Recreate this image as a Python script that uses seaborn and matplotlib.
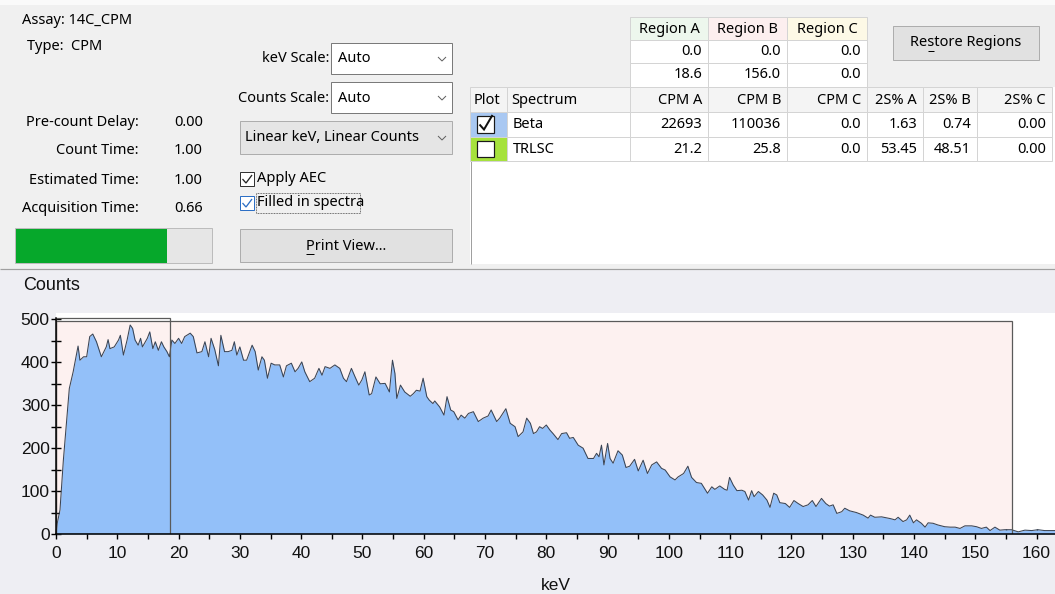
import matplotlib
matplotlib.use("Agg")
import matplotlib.pyplot as plt
from matplotlib.patches import Rectangle
from matplotlib.lines import Line2D
import seaborn as sns

# ---------------------------------------------------------------- data
assay_name = "14C_CPM"
assay_type = "CPM"

timing_labels = ["Pre-count Delay:", "Count Time:", "Estimated Time:", "Acquisition Time:"]
timing_values = [0.00, 1.00, 1.00, 0.66]
progress_fraction = 0.77

kev_scale = "Auto"
counts_scale = "Auto"
scale_mode = "Linear keV, Linear Counts"
apply_aec = True
filled_spectra = True

region_names = ["Region A", "Region B", "Region C"]
region_lower = [0.0, 0.0, 0.0]
region_upper = [18.6, 156.0, 0.0]

spectrum_names = ["Beta", "TRLSC"]
spectrum_plotted = [True, False]
cpm_values = [["22693", "110036", "0.0"], ["21.2", "25.8", "0.0"]]
two_sigma = [["1.63", "0.74", "0.00"], ["53.45", "48.51", "0.00"]]

# Beta spectrum (keV, counts)
kev = [0.0, 0.2, 0.65, 1.2, 1.74, 2.17, 2.8, 3.37, 3.6, 3.9, 4.5, 5.0, 5.5, 6.0, 6.6,
       7.4, 8.2, 8.5, 8.8, 9.5, 10.2, 10.5, 11.0, 11.6, 12.1, 12.5, 12.9, 13.4, 13.8,
       14.1, 14.9, 15.3, 15.8, 16.2, 16.7, 17.2, 17.6, 18.1, 18.5, 18.9, 19.4, 20.0,
       20.5, 21.0, 21.9, 22.4, 23.0, 23.8, 24.3, 24.9, 25.3, 25.9, 26.5, 26.9, 27.5,
       28.1, 28.7, 29.1, 29.5, 30.0, 30.6, 31.1, 32.0, 32.5, 33.0, 33.6, 34.0, 34.5,
       35.1, 35.7, 36.5, 37.1, 37.6, 38.4, 39.0, 39.5, 40.1, 40.6, 41.4, 42.2, 42.9,
       43.4, 43.9, 44.7, 45.5, 46.3, 46.9, 47.4, 48.2, 48.8, 49.4, 49.9, 50.4, 51.1,
       51.5, 52.2, 52.9, 53.7, 54.4, 54.9, 55.3, 55.6, 56.2, 56.9, 57.8, 58.3, 58.8,
       59.4, 59.9, 60.5, 60.9, 61.5, 61.8, 62.6, 63.3, 63.8, 64.4, 64.9, 65.6, 66.1,
       66.7, 67.3, 68.1, 68.9, 69.7, 70.5, 71.0, 71.9, 72.4, 73.4, 74.1, 74.9, 75.4,
       76.2, 76.8, 77.4, 77.9, 78.4, 78.9, 79.4, 80.0, 80.6, 81.1, 81.9, 82.5, 83.3,
       83.8, 84.4, 85.2, 86.0, 86.8, 87.7, 88.2, 88.6, 89.0, 89.4, 90.0, 90.4, 90.9,
       91.7, 92.4, 93.0, 93.6, 94.4, 95.0, 95.8, 96.5, 97.2, 98.0, 98.8, 99.4, 100.2,
       101.0, 101.5, 102.4, 103.1, 103.7, 104.5, 105.3, 106.3, 107.0, 107.5, 108.3,
       109.1, 109.5, 109.9, 110.5, 111.1, 111.9, 112.4, 113.0, 113.5, 113.9, 114.6,
       115.3, 116.0, 116.5, 117.1, 117.6, 118.1, 119.0, 119.7, 120.4, 121.1, 121.9,
       122.7, 123.4, 124.0, 124.9, 125.6, 126.2, 126.8, 127.4, 128.2, 128.7, 129.5,
       130.6, 131.7, 132.5, 132.9, 133.6, 134.7, 136.1, 136.9, 137.4, 138.2, 138.8,
       139.3, 139.9, 140.4, 141.2, 141.8, 142.3, 143.1, 143.9, 145.0, 145.9, 146.7,
       147.5, 148.3, 149.4, 150.2, 151.0, 151.8, 152.4, 153.2, 154.0, 154.8, 155.9,
       157.0, 158.1, 159.2, 160.2, 161.3, 163.0]
counts = [0, 25, 56, 172, 265, 339, 378, 421, 438, 405, 413, 413, 460, 466, 448,
          413, 436, 453, 432, 436, 452, 463, 417, 452, 487, 479, 452, 440, 456,
          436, 456, 471, 432, 448, 428, 448, 436, 425, 413, 452, 444, 456,
          444, 460, 468, 460, 422, 425, 448, 413, 456, 430, 392, 463, 425,
          425, 428, 448, 417, 436, 405, 405, 440, 425, 382, 413, 405, 363,
          398, 394, 394, 366, 392, 398, 378, 386, 401, 378, 355, 363, 386,
          370, 390, 386, 394, 386, 363, 355, 386, 366, 347, 359, 378, 324,
          327, 366, 350, 351, 331, 405, 374, 316, 347, 331, 321, 327, 335,
          333, 363, 320, 312, 304, 310, 296, 277, 320, 289, 285, 266, 277,
          270, 281, 285, 262, 270, 275, 289, 262, 270, 292, 258, 250, 227,
          238, 270, 258, 234, 238, 250, 246, 254, 242, 234, 220, 234, 236,
          223, 225, 207, 200, 176, 176, 188, 180, 207, 161, 211, 176, 165,
          194, 184, 155, 158, 174, 147, 172, 141, 161, 168, 153, 149, 133,
          126, 133, 141, 158, 132, 120, 118, 95, 110, 104, 112,
          104, 102, 132, 114, 101, 102, 99, 79, 101, 87, 99,
          91, 79, 62, 95, 91, 73, 71, 62, 78, 71, 64,
          68, 78, 64, 83, 71, 65, 68, 48, 52, 60, 54,
          50, 44, 37, 44, 39, 40, 36, 33, 39, 29, 33,
          44, 26, 33, 25, 16, 26, 25, 21, 17, 16, 16,
          13, 19, 19, 17, 13, 16, 8, 16, 9, 10, 10,
          5, 9, 8, 10, 8, 8]

# ---------------------------------------------------------------- style
sns.set_theme(style="white")
UI_FONT = ["Noto Sans", "DejaVu Sans"]
CHART_FONT = "Liberation Sans"
plt.rcParams["font.family"] = UI_FONT
UI_SIZE = 10.5

W, H = 1055, 594
fig = plt.figure(figsize=(W / 100, H / 100), dpi=100)
fig.patch.set_facecolor("#f0f0f0")


def X(x):
    return x / W


def Y(y):
    return 1 - y / H


def box(x0, y0, x1, y1, fc="none", ec="none", lw=1.0, z=1, ls="-"):
    fig.add_artist(Rectangle((X(x0), Y(y1)), (x1 - x0) / W, (y1 - y0) / H,
                             transform=fig.transFigure, facecolor=fc, edgecolor=ec,
                             linewidth=lw * 0.72, zorder=z, linestyle=ls))


def line(xs, ys, color, lw=1.0, z=3, ls="-"):
    fig.add_artist(Line2D([X(v) for v in xs], [Y(v) for v in ys],
                          transform=fig.transFigure, color=color, linewidth=lw * 0.72,
                          zorder=z, linestyle=ls, solid_capstyle="butt",
                          solid_joinstyle="miter"))


def label(x, y, s, ha="left", size=UI_SIZE, color="#000000", family=None, z=5):
    return fig.text(X(x), Y(y), s, ha=ha, va="center", fontsize=size, color=color,
                    family=family or UI_FONT, zorder=z)


renderer = fig.canvas.get_renderer()


def underline_char(t, text, idx, y):
    # underline the access-key letter of a button caption
    bb = t.get_window_extent(renderer)
    pre = fig.text(0, 0, text[:idx], fontsize=t.get_fontsize(), family=UI_FONT)
    upto = fig.text(0, 0, text[:idx + 1], fontsize=t.get_fontsize(), family=UI_FONT)
    w0 = pre.get_window_extent(renderer).width if idx else 0
    w1 = upto.get_window_extent(renderer).width
    pre.remove()
    upto.remove()
    line([bb.x0 + w0 + 0.5, bb.x0 + w1 - 0.5], [y, y], "#000000", lw=1)


def chevron(cx, cy):
    line([cx - 4, cx, cx + 4], [cy - 2, cy + 2, cy - 2], "#606060", lw=1)


# ---------------------------------------------------------------- window panels
box(0, 0, W, 5, fc="#fafafa", z=0.5)
box(0, 270, W, H, fc="#eeeef3", z=0.5)
line([0, W], [268.5, 268.5], "#a0a0a0", lw=1.2, z=1)

# left info block
label(22, 20, f"Assay: {assay_name}")
label(27, 47, f"Type:  {assay_type}")
for i, (lab, val) in enumerate(zip(timing_labels, timing_values)):
    yy = 122 + i * 29
    label(139, yy, lab, ha="right")
    label(203, yy, f"{val:.2f}", ha="right")

box(15, 228, 212, 263, fc="#e6e6e6", ec="#bcbcbc", lw=1, z=2)
box(15.5, 228.5, 15 + (212 - 15) * progress_fraction, 262.5, fc="#06a82b", z=3)

# scale selectors
label(329, 59, "keV Scale:", ha="right")
box(331, 43, 452, 74, fc="#ffffff", ec="#7a7a7a", lw=1, z=2)
label(338, 59, kev_scale)
chevron(442, 59)

label(329, 98, "Counts Scale:", ha="right")
box(331, 82, 452, 113, fc="#ffffff", ec="#7a7a7a", lw=1, z=2)
label(338, 98, counts_scale)
chevron(442, 98)

box(240, 121, 452, 154, fc="#e5e5e5", ec="#adadad", lw=1, z=2)
label(245, 138, scale_mode)
chevron(442, 138)

# check boxes
box(240, 172, 254, 186, fc="#ffffff", ec="#333333", lw=1, z=2)
if apply_aec:
    line([242.5, 246, 252], [179, 183, 175], "#222222", lw=1.3, z=4)
label(257, 178, "Apply AEC")

box(240, 196, 254, 210, fc="#ffffff", ec="#2d6fc5", lw=1, z=2)
if filled_spectra:
    line([242.5, 246, 252], [203, 207, 199], "#2d6fc5", lw=1.3, z=4)
box(256, 193, 360, 213, fc="none", ec="#333333", lw=0.8, z=3, ls=(0, (1, 1)))
label(257, 203, "Filled in spectra")

box(240, 229, 452, 262, fc="#e1e1e1", ec="#adadad", lw=1, z=2)
pv = label(346, 246, "Print View...", ha="center")
underline_char(pv, "Print View...", 0, 254)

# ---------------------------------------------------------------- region / result tables
GRID = "#d4d4d4"
box(470, 87, W, 264, fc="#ffffff", z=1)
line([470.5, 470.5], [87, 264], "#a0a0a0", lw=1, z=2)

region_x = [630, 708, 787, 867]
region_tints = ["#edf7ed", "#fcefef", "#fdf9e6"]
row_y = [17, 40, 63, 87]
for j, name in enumerate(region_names):
    x0, x1 = region_x[j], region_x[j + 1]
    box(x0, row_y[0], x1, row_y[1], fc=region_tints[j], ec=GRID, lw=1, z=2)
    label((x0 + x1) / 2, (row_y[0] + row_y[1]) / 2 + 1, name, ha="center")
    for r, val in enumerate([region_lower[j], region_upper[j]]):
        box(x0, row_y[r + 1], x1, row_y[r + 2], fc="#ffffff", ec=GRID, lw=1, z=2)
        label(x1 - 6, (row_y[r + 1] + row_y[r + 2]) / 2, f"{val:.1f}", ha="right")

box(893, 26, 1039, 60, fc="#e1e1e1", ec="#adadad", lw=1, z=2)
rr = label(966, 43, "Restore Regions", ha="center")
underline_char(rr, "Restore Regions", 2, 51)

col_x = [470, 507, 630, 708, 787, 867, 923, 977, 1052]
headers = ["Plot", "Spectrum", "CPM A", "CPM B", "CPM C", "2S% A", "2S% B", "2S% C"]
table_y = [87, 112, 137, 161]
for c, head in enumerate(headers):
    x0, x1 = col_x[c], col_x[c + 1]
    box(x0, table_y[0], x1, table_y[1], fc="#f4f4f4", ec=GRID, lw=1, z=2)
    if c < 2:
        label(x0 + 4, 100, head)
    else:
        label(x1 - 6, 100, head, ha="right")

plot_tints = ["#a9c8f2", "#a6e23c"]
for r, name in enumerate(spectrum_names):
    y0, y1 = table_y[r + 1], table_y[r + 2]
    ym = (y0 + y1) / 2
    box(col_x[0], y0, col_x[1], y1, fc=plot_tints[r], ec=GRID, lw=1, z=2)
    box(477, y0 + 4, 494, y1 - 4, fc="#ffffff", ec="#1a1a1a", lw=1.2, z=3)
    if spectrum_plotted[r]:
        line([479.5, 484, 492.5], [ym, ym + 5, y0 + 3], "#111111", lw=2, z=4)
    box(col_x[1], y0, col_x[2], y1, fc="#ffffff", ec=GRID, lw=1, z=2)
    label(col_x[1] + 6, ym + 0.5, name)
    cells = cpm_values[r] + two_sigma[r]
    for c, val in enumerate(cells):
        x0, x1 = col_x[c + 2], col_x[c + 3]
        box(x0, y0, x1, y1, fc="#ffffff", ec=GRID, lw=1, z=2)
        label(x1 - 6, ym + 0.5, val, ha="right")

# ---------------------------------------------------------------- spectrum chart
ax = fig.add_axes([X(56), Y(534), (W - 56) / W, (534 - 313) / H])
ax.set_zorder(10)
ax.set_facecolor("#ffffff")
ax.set_xlim(0, 163.0)
ax.set_ylim(0, 515)

region_heights = [504, 497]
ax.add_patch(Rectangle((region_lower[1], 0), region_upper[1] - region_lower[1],
                       region_heights[1], facecolor="#fdf1f0", edgecolor="none", zorder=0.5))
ax.fill_between(kev, counts, 0, color="#93c0f9", linewidth=0, zorder=1)
sns.lineplot(x=kev, y=counts, ax=ax, color="#3a4454", linewidth=0.75,
             estimator=None, sort=False, zorder=2)
for k in (0, 1):
    ax.add_patch(Rectangle((region_lower[k], 0), region_upper[k] - region_lower[k],
                           region_heights[k], facecolor="none", edgecolor="#5a5a5a",
                           linewidth=0.9, zorder=3))

for side in ("top", "right"):
    ax.spines[side].set_visible(False)
for side in ("left", "bottom"):
    ax.spines[side].set_visible(True)
    ax.spines[side].set_color("#000000")
    ax.spines[side].set_linewidth(1.1)
    ax.spines[side].set_zorder(5)
ax.spines["left"].set_bounds(0, 504)

ax.set_xticks(range(0, 161, 10))
ax.set_xticks([v + 5 for v in range(0, 160, 10)], minor=True)
ax.set_yticks(range(0, 501, 100))
ax.set_yticks([v + 50 for v in range(0, 500, 100)], minor=True)
ax.tick_params(which="both", bottom=True, left=True, top=False, right=False,
               direction="inout", length=7, width=1.0, color="#000000",
               labelsize=12.5, labelcolor="#111111", labelfontfamily=CHART_FONT)
ax.tick_params(axis="x", which="both", pad=5)
ax.tick_params(axis="y", which="both", pad=1)
ax.set_xlabel("")
ax.set_ylabel("")

fig.text(X(23), Y(285), "Counts", ha="left", va="center", fontsize=13,
         family=CHART_FONT, color="#111111")
fig.text(X(556), Y(585), "keV", ha="center", va="center", fontsize=12.5,
         family=CHART_FONT, color="#111111")

fig.savefig("out.png", dpi=100, facecolor=fig.get_facecolor())
